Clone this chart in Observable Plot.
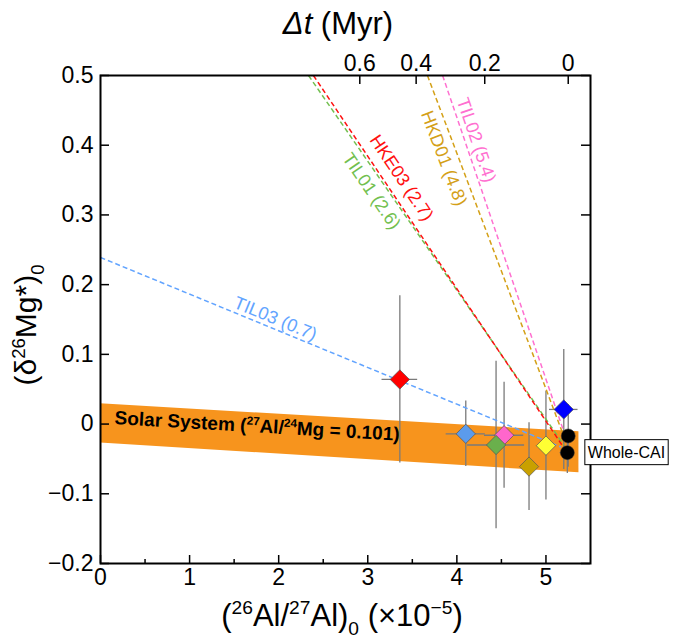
<!DOCTYPE html>
<html><head><meta charset="utf-8">
<script src="https://cdn.jsdelivr.net/npm/d3@7"></script>
<script src="https://cdn.jsdelivr.net/npm/@observablehq/plot@0.6"></script>
<style>body{margin:0;background:#fff;}</style>
</head><body><div id="chart"></div>
<script>
// ---- data ----
const pointNames = ["HKE03","TIL03","TIL02","TIL01","HKD01","CAI-Y","CAI-B"];
const pointAl   = [3.36, 4.10, 4.53, 4.44, 4.81, 5.00, 5.20];
const pointAlErr= [0.20, 0.22, 0.22, 0.32, 0.08, 0.10, 0.16];
const pointMg   = [0.064, -0.014, -0.016, -0.030, -0.061, -0.031, 0.021];
const pointMgErr= [0.120, 0.047, 0.076, 0.120, 0.063, 0.078, 0.086];
const pointFill = ["#ff0000","#5b9bec","#ff66cc","#6ab04c","#c9a000","#ffff33","#0000ff"];

const wholeAl    = [5.25, 5.24];
const wholeAlErr = [0.06, 0.08];
const wholeMg    = [-0.017, -0.041];
const wholeMgErr = [0.045, 0.030];

const isoNames  = ["TIL03 (0.7)","TIL01 (2.6)","HKE03 (2.7)","HKD01 (4.8)","TIL02 (5.4)"];
const isoX1     = [0, 2.335, 2.39, 3.67, 3.84];
const isoY1     = [0.239, 0.5, 0.5, 0.5, 0.5];
const isoX2     = [5.17, 5.20, 5.18, 5.22, 5.23];
const isoY2     = [-0.033, -0.030, -0.030, -0.024, -0.022];
const isoColors = ["#62a4ff","#72bf4f","#ff1010","#d4a017","#ff70d0"];

const bandX    = [0, 5.37];
const bandHigh = [0.029, -0.011];
const bandLow  = [-0.027, -0.070];

const xTicks      = [0,1,2,3,4,5];
const xMinorTicks = [0.5,1.5,2.5,3.5,4.5];
const yTicks      = [-0.2,-0.1,0,0.1,0.2,0.3,0.4,0.5];
const dtTicks     = [0, 0.2, 0.4, 0.6];
const R0 = 5.25, halfLife = 0.705;   // Δt = ln(R0/R)/λ

// ---- layout ----
const W=676,H=639,ML=100,MR=86,MT=75,MB=76;
const xDom=[0,5.5], yDom=[-0.2,0.5];
const PW=W-ML-MR, PH=H-MT-MB;
const kx=PW/(xDom[1]-xDom[0]), ky=PH/(yDom[1]-yDom[0]);
const FONT = "'Liberation Sans', Arial, sans-serif";
const TICK_FS = 23, TITLE_FS = 31;

const labelAt   = [1.92, 3.17, 3.23, 4.0, 4.10];
const labelSide = [1, -1, 1, -1, 1];
const labelGap  = [10, 14, 16, 14, 11];
function labelPos(i){
  const x1=isoX1[i], y1=isoY1[i], x2=isoX2[i], y2=isoY2[i];
  const ang=Math.atan2(-(y2-y1)*ky, (x2-x1)*kx);
  const t=(labelAt[i]-x1)/(x2-x1);
  const fx=labelAt[i], fy=y1+t*(y2-y1);
  const d=labelSide[i]*labelGap[i];
  const ox=d*Math.sin(ang), oy=-d*Math.cos(ang);
  return {x: fx+ox/kx, y: fy-oy/ky, rotate: ang*180/Math.PI};
}

const lam = Math.LN2/halfLife;
const dtX = t => R0*Math.exp(-lam*t);

const pts = pointAl.map((_,i)=>i);
const whole = wholeAl.map((_,i)=>i);
const iso = isoNames.map((_,i)=>i);

const labelMarks = iso.map(i=>{
  const p=labelPos(i);
  return Plot.text([i], {x: ()=>p.x, y: ()=>p.y, text: ()=>isoNames[i], rotate: p.rotate,
    fill: isoColors[i], fontSize: 18, textAnchor: "middle", lineAnchor: "middle", fontFamily: FONT});
});

const plot = Plot.plot({
  width: W, height: H, marginLeft: ML, marginRight: MR, marginTop: MT, marginBottom: MB,
  x: {domain: xDom}, y: {domain: yDom},
  style: {fontFamily: FONT, background: "white", overflow: "visible"},
  marks: [
    Plot.areaY([0,1], {x: i=>bandX[i], y1: i=>bandLow[i], y2: i=>bandHigh[i], fill: "#f7941d"}),
    Plot.ruleX(pts, {x: i=>pointAl[i], y1: i=>pointMg[i]-pointMgErr[i], y2: i=>pointMg[i]+pointMgErr[i], stroke: "#7a7a7a", strokeWidth: 1.3}),
    Plot.ruleY(pts, {y: i=>pointMg[i], x1: i=>pointAl[i]-pointAlErr[i], x2: i=>pointAl[i]+pointAlErr[i], stroke: "#7a7a7a", strokeWidth: 1.3}),
    Plot.ruleX(whole, {x: i=>wholeAl[i], y1: i=>wholeMg[i]-wholeMgErr[i], y2: i=>wholeMg[i]+wholeMgErr[i], stroke: "#7a7a7a", strokeWidth: 1.3}),
    Plot.ruleY(whole, {y: i=>wholeMg[i], x1: i=>wholeAl[i]-wholeAlErr[i], x2: i=>wholeAl[i]+wholeAlErr[i], stroke: "#7a7a7a", strokeWidth: 1.3}),
    Plot.link(iso, {x1: i=>isoX1[i], y1: i=>isoY1[i], x2: i=>isoX2[i], y2: i=>isoY2[i], stroke: i=>isoColors[i], strokeWidth: 1.5, strokeDasharray: "5,3"}),
    Plot.dot(pts, {x: i=>pointAl[i], y: i=>pointMg[i], symbol: "diamond2", r: 8.7, fill: i=>pointFill[i], stroke: "#555", strokeWidth: 0.7}),
    Plot.dot(whole, {x: i=>wholeAl[i], y: i=>wholeMg[i], symbol: "circle", r: 7, fill: "black", stroke: "#333", strokeWidth: 0.5}),
    ...labelMarks,
    // inward ticks
    Plot.tickX(xTicks, {x: d=>d, insetTop: PH-8, stroke: "black", strokeWidth: 1.5}),
    Plot.tickX(xMinorTicks, {x: d=>d, insetTop: PH-4, stroke: "black", strokeWidth: 1.5}),
    Plot.tickY(yTicks, {y: d=>d, insetRight: PW-9, stroke: "black", strokeWidth: 1.5}),
    Plot.tickY(yTicks, {y: d=>d, insetLeft: PW-9, stroke: "black", strokeWidth: 1.5}),
    Plot.tickX(dtTicks, {x: t=>dtX(t), insetBottom: PH-9, stroke: "black", strokeWidth: 1.5}),
    Plot.frame({stroke: "black", strokeWidth: 2}),
    Plot.axisX({anchor: "bottom", ticks: xTicks, tickSize: 0, tickPadding: 5, fontSize: TICK_FS, label: null, tickFormat: d=>String(d)}),
    Plot.axisY({anchor: "left", ticks: yTicks, tickSize: 0, tickPadding: 7, fontSize: TICK_FS, label: null,
      tickFormat: d=> Math.abs(d)<1e-9 ? "0" : d3.format(".1f")(d)}),
    Plot.text(dtTicks, {x: t=>dtX(t), text: t=> t===0 ? "0" : t.toFixed(1), frameAnchor: "top", lineAnchor: "bottom", dy: -5, fontSize: TICK_FS, fill: "black"})
  ]
});
document.getElementById("chart").appendChild(plot);

// ---- rich-text annotations ----
const svg = d3.select(plot);
const sx = plot.scale("x"), sy = plot.scale("y");
function rich(sel, parts, fs){
  let shift=0;
  parts.forEach(([s,k])=>{
    const ts=sel.append("tspan").text(s);
    let target=0, size=fs;
    if(k==="sup"){target=-0.38*fs; size=0.62*fs;}
    if(k==="sub"){target=0.28*fs; size=0.62*fs;}
    ts.attr("font-size", size).attr("dy", target-shift);
    if(k==="i") ts.attr("font-style","italic");
    shift=target;
  });
}
const g = svg.append("g").attr("font-family", FONT).attr("fill","black").attr("text-anchor","start");
// top title
rich(g.append("text").attr("x", 338).attr("y", 34).attr("text-anchor","middle"),
  [["Δt","i"],[" (Myr)","n"]], TITLE_FS);
// bottom title
rich(g.append("text").attr("x", 342).attr("y", 626).attr("text-anchor","middle"),
  [["(","n"],["26","sup"],["Al/","n"],["27","sup"],["Al)","n"],["0","sub"],[" (×10","n"],["−5","sup"],[")","n"]], TITLE_FS);
// left title
rich(g.append("text").attr("transform","translate(36,325) rotate(-90)").attr("text-anchor","middle"),
  [["(δ","n"],["26","sup"],["Mg*)","n"],["0","sub"]], 30);

// solar system label along band
{
  const lx = 1.76;
  const t = (lx-bandX[0])/(bandX[1]-bandX[0]);
  const c0 = (bandHigh[0]+bandLow[0])/2, c1 = (bandHigh[1]+bandLow[1])/2;
  const cy = c0 + t*(c1-c0);
  const px = sx.apply(lx), py = sy.apply(cy);
  const ang = Math.atan2(sy.apply(bandHigh[1])-sy.apply(bandHigh[0]), sx.apply(bandX[1])-sx.apply(bandX[0]))*180/Math.PI;
  const tx = g.append("text").attr("transform",`translate(${px},${py}) rotate(${ang})`)
    .attr("text-anchor","middle").attr("dy","0.35em").attr("font-weight","bold");
  rich(tx, [["Solar System (","n"],["27","sup"],["Al/","n"],["24","sup"],["Mg = 0.101)","n"]], 19);
}
// Whole-CAI label
{
  const px = sx.apply(wholeAl[1]) + 18, py = sy.apply(wholeMg[1]);
  const lab = g.append("g");
  const rect = lab.append("rect").attr("fill","white").attr("stroke","black").attr("stroke-width",1);
  const txt = lab.append("text").attr("x", px+3).attr("y", py).attr("dy","0.35em").attr("font-size",16).attr("text-anchor","start").text("Whole-CAI");
  const bb = txt.node().getBBox();
  rect.attr("x", bb.x-3).attr("y", py-12.5).attr("width", bb.width+6).attr("height", 25);
}
</script></body></html>
